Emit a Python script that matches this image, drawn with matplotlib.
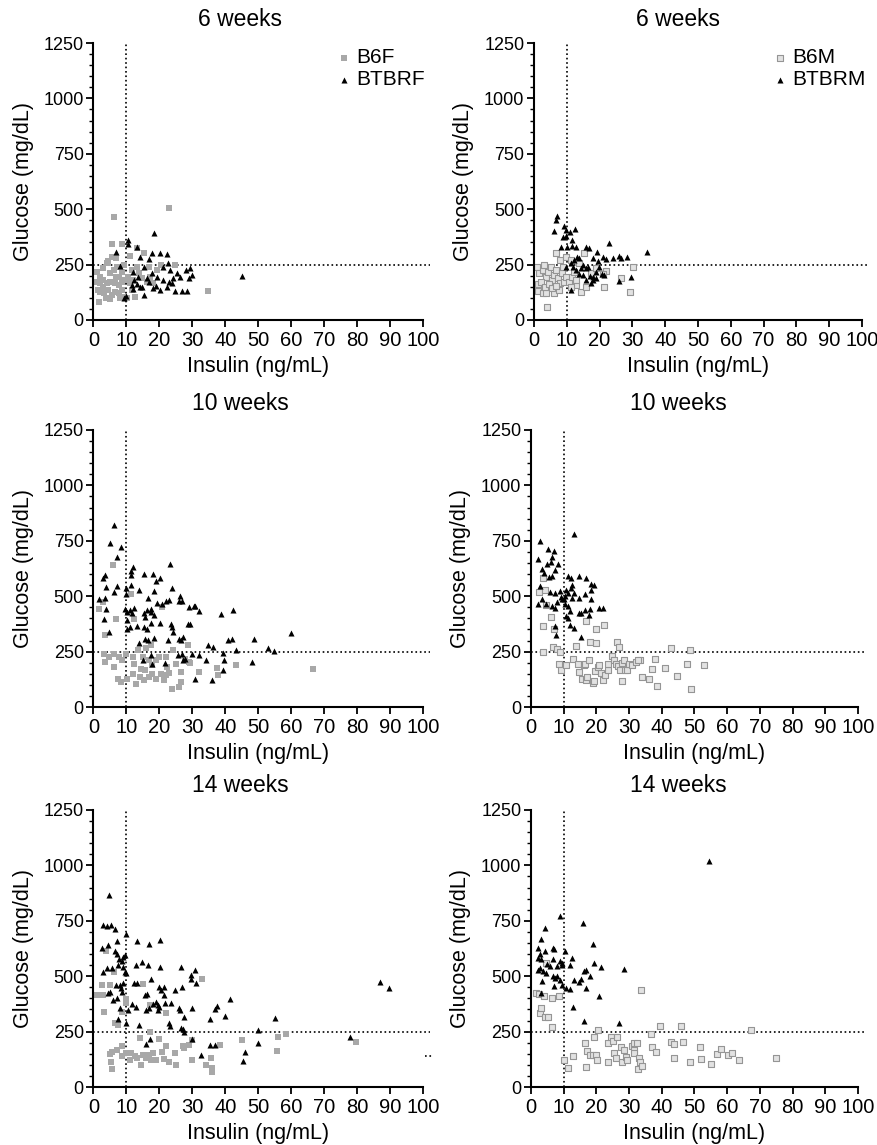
import matplotlib
matplotlib.use('Agg')
import matplotlib.pyplot as plt
from matplotlib.ticker import MultipleLocator

plt.rcParams['font.family'] = ['Liberation Sans', 'DejaVu Sans']

# ---- 6 weeks, females ----
b6f_6_x = [1.0, 2.0, 3.0, 4.0, 4.5, 5.1, 6.1, 7.1, 7.6, 8.6, 9.3, 2.0, 3.0, 4.0, 5.1, 6.6, 7.6, 8.6, 9.6,
           10.6, 2.0, 3.2, 4.5, 5.6, 6.6, 7.6, 8.6, 9.3, 3.8, 5.1, 8.1, 11.1, 11.6, 12.1, 13.1, 13.9, 14.6,
           16.2, 17.2, 5.6, 6.9, 8.8, 5.6, 6.1, 23.0, 13.1, 11.1, 15.2, 1.5, 1.7, 34.7, 10.1, 12.6, 1.0,
           3.0, 6.9, 11.6, 19.2, 18.2, 16.7, 24.8, 20.5]
b6f_6_y = [218, 196, 233, 256, 264, 211, 226, 241, 196, 218, 248, 166, 151, 166, 173, 166, 158, 173, 181,
           196, 128, 120, 136, 113, 128, 120, 136, 105, 98, 93, 98, 166, 136, 181, 241, 211, 188,
           173, 196, 286, 282, 345, 342, 464, 506, 324, 289, 301, 136, 80, 133, 101, 105, 173,
           181, 196, 226, 226, 166, 241, 248, 250]
btbrf_6_x = [45.2, 18.4, 10.6, 10.6, 6.9, 8.1, 13.3, 20.2, 17.8, 22.4, 16.8, 14.1, 22.7, 23.2, 26.3, 29.3,
             29.8, 29.0, 28.3, 27.0, 24.7, 22.4, 19.0, 15.4, 9.3, 9.9, 11.9, 13.1, 14.0, 14.6, 16.2, 17.7,
             19.2, 21.2, 23.0, 23.7, 24.2, 25.3, 28.0, 15.2, 12.1, 13.6, 12.3, 11.6, 16.9, 18.2, 20.2, 21.2]
btbrf_6_y = [199, 392, 361, 342, 306, 245, 328, 301, 301, 297, 274, 286, 256, 226, 196, 233,
             203, 188, 131, 131, 133, 150, 154, 113, 101, 108, 139, 163, 151, 151, 188, 211,
             196, 181, 173, 166, 188, 211, 226, 241, 218, 196, 181, 158, 173, 143, 136, 241]

# ---- 6 weeks, males ----
b6m_6_x = [4.1, 1.3, 1.2, 2.6, 3.6, 6.1, 7.7, 6.6, 7.9, 9.9, 11.2, 13.8, 15.3, 21.4, 26.5, 29.3, 30.3, 21.9,
           20.9, 14.3, 15.8, 12.8, 1.0, 1.5, 2.6, 3.1, 3.6, 4.4, 5.1, 5.6, 6.1, 6.6, 7.4, 7.9, 8.5, 8.9,
           2.0, 3.4, 4.6, 5.6, 6.8, 9.2, 9.7, 10.7, 11.5, 12.2, 11.2, 12.8, 17.3, 18.9]
b6m_6_y = [59, 161, 131, 120, 123, 123, 136, 301, 271, 286, 271, 256, 301, 151, 191, 125, 238, 223,
           206, 128, 151, 158, 241, 211, 226, 248, 196, 218, 241, 181, 203, 226, 188, 166, 211, 241,
           173, 151, 163, 143, 154, 173, 196, 173, 196, 218, 151, 181, 211, 233]
btbrm_6_x = [7.1, 6.8, 6.1, 9.2, 9.7, 10.9, 12.6, 9.7, 8.9, 8.2, 10.2, 11.5, 12.9, 11.7, 15.8, 16.8, 19.1,
             22.8, 34.4, 29.6, 26.0, 26.0, 26.5, 28.3, 24.2, 21.9, 20.9, 19.4, 18.1, 13.0, 13.6, 11.2,
             9.7, 11.9, 12.8, 14.3, 15.0, 15.8, 14.8, 15.8, 17.0, 18.1, 17.5, 18.1, 19.0, 19.9, 20.7,
             21.4, 19.0, 11.2, 13.8, 12.2, 16.6]
btbrm_6_y = [470, 452, 402, 422, 407, 395, 410, 377, 373, 331, 331, 334, 331, 361, 328, 324, 309,
             349, 309, 196, 176, 289, 279, 283, 279, 274, 283, 268, 279, 286, 279, 256,
             241, 241, 226, 236, 248, 233, 203, 181, 199, 181, 166, 196, 218, 241, 208,
             203, 188, 136, 208, 271, 241]

# ---- 10 weeks, females ----
b6f_10_x = [6.0, 1.7, 2.9, 6.8, 3.4, 11.3, 12.4, 20.7, 28.7, 66.6, 43.3, 37.4, 37.7, 32.1, 29.3, 26.5, 26.5,
            23.7, 26.0, 23.0, 22.3, 21.5, 20.5, 18.9, 16.9, 15.4, 14.1, 12.9, 11.9, 10.3, 8.3, 7.3, 6.3,
            3.2, 3.5, 4.8, 6.3, 7.8, 8.8, 9.8, 11.9, 13.4, 12.4, 14.9, 16.9, 17.9, 18.9, 17.4, 15.9,
            24.0, 25.0, 27.8, 28.9, 15.7, 17.9, 14.4, 21.9, 19.9, 21.9]
b6f_10_y = [640, 440, 474, 395, 324, 508, 395, 452, 279, 172, 191, 176, 143, 157, 199, 158, 113,
            83, 90, 154, 181, 120, 151, 128, 136, 123, 136, 105, 151, 128, 113, 128, 181,
            241, 203, 226, 241, 226, 211, 241, 226, 256, 196, 226, 211, 188, 211, 279, 264,
            256, 196, 218, 203, 166, 151, 173, 143, 226, 226]
btbrf_10_x = [6.3, 5.1, 8.3, 7.1, 23.3, 12.1, 15.2, 18.1, 20.2, 18.9, 3.4, 2.9, 11.5, 11.3, 3.8, 7.2, 9.8,
              11.5, 6.1, 13.9, 18.4, 16.6, 23.7, 26.2, 1.7, 3.4, 3.8, 3.3, 4.6, 9.8, 9.6, 10.3, 11.0,
              11.6, 12.4, 10.3, 10.1, 11.0, 13.2, 15.3, 15.6, 16.3, 17.3, 17.6, 18.4, 15.3, 16.1, 17.6,
              20.2, 19.2, 20.9, 22.0, 23.0, 25.8, 26.8, 23.5, 23.8, 24.0, 18.4, 15.7, 16.4, 13.9, 22.5,
              25.8, 27.3, 26.6, 28.6, 29.3, 28.9, 30.4, 30.9, 32.1, 38.7, 42.2, 34.9, 36.2, 31.9, 34.1,
              39.2, 39.7, 40.7, 42.0, 43.1, 48.8, 48.0, 53.1, 54.7, 60.0, 30.9, 36.0, 39.4, 21.8, 14.9,
              17.7, 17.6, 25.5, 26.8, 27.8, 29.9, 27.2]
btbrf_10_y = [821, 742, 723, 678, 646, 632, 602, 602, 584, 568, 595, 583, 614, 595, 542, 547, 538,
              550, 518, 526, 523, 494, 539, 500, 486, 492, 440, 396, 339, 512, 440, 429, 437,
              425, 449, 392, 351, 361, 364, 422, 404, 437, 429, 440, 416, 361, 352, 380,
              380, 470, 467, 477, 485, 477, 477, 376, 361, 339, 312, 309, 301, 289, 301,
              309, 316, 301, 373, 376, 452, 458, 456, 432, 419, 437, 279, 271, 236, 211,
              244, 211, 301, 307, 259, 309, 203, 264, 251, 334, 128, 122, 166, 199, 211,
              193, 233, 233, 241, 218, 241, 211]

# ---- 10 weeks, males ----
b6m_10_x = [3.7, 2.5, 4.2, 4.7, 6.0, 7.1, 3.7, 6.6, 8.0, 3.7, 8.8, 16.7, 19.9, 22.4, 17.9, 19.9, 13.8, 26.2,
            26.8, 42.8, 48.5, 47.7, 52.8, 44.6, 48.9, 41.1, 38.5, 37.1, 37.9, 36.0, 33.8, 33.4,
            8.6, 9.3, 10.8, 12.8, 14.3, 14.8, 15.6, 16.7, 17.1, 16.2, 16.5, 17.7, 19.1, 19.4, 19.7,
            20.4, 20.9, 21.4, 22.1, 22.7, 23.4, 23.7, 24.9, 25.5, 26.0, 26.5, 27.2, 27.8, 28.5, 28.8,
            27.8, 29.5, 30.0, 31.0, 32.0, 32.8]
b6m_10_y = [580, 519, 529, 460, 406, 351, 364, 272, 260, 249, 249, 386, 353, 368, 293, 287, 275, 295,
            272, 268, 258, 194, 188, 141, 83, 177, 94, 170, 218, 126, 135, 212,
            196, 165, 191, 218, 192, 157, 127, 122, 137, 188, 196, 211, 107, 116, 162,
            180, 188, 153, 122, 145, 165, 192, 229, 211, 192, 183, 168, 198, 211, 165,
            116, 165, 196, 188, 203, 214]
btbrm_10_x = [13.3, 2.7, 5.3, 7.0, 2.2, 6.3, 3.5, 4.8, 6.0, 7.3, 8.3, 4.0, 2.7, 5.5, 6.5, 5.8, 7.2, 8.8,
              10.0, 10.3, 9.3, 9.6, 3.5, 2.2, 4.7, 6.3, 7.3, 7.8, 11.3, 12.3, 12.6, 12.1, 10.8, 11.3,
              13.0, 12.6, 14.8, 14.8, 16.9, 18.4, 19.2, 18.4, 16.4, 18.4, 16.5, 14.6, 18.1, 17.7, 20.9,
              22.1, 10.3, 11.3, 11.8, 10.8, 11.8, 13.3, 7.3, 7.6, 15.4, 11.3, 15.4]
btbrm_10_y = [780, 750, 715, 703, 666, 677, 623, 646, 654, 616, 646, 605, 547, 585, 590, 521, 516, 524,
              489, 501, 498, 486, 486, 466, 463, 455, 448, 474, 590, 580, 550, 539, 529, 513,
              513, 493, 493, 590, 580, 554, 551, 527, 509, 486, 437, 422, 440, 417, 448,
              448, 467, 458, 432, 409, 371, 356, 364, 325, 315, 402, 425]

# ---- 14 weeks, females ----
b6f_14_x = [3.7, 6.2, 2.7, 5.0, 1.5, 0.5, 3.0, 3.2, 6.5, 7.5, 8.5, 10.0, 9.8, 15.0, 17.0, 22.0, 33.0, 17.0,
            14.0, 20.0, 22.0, 27.2, 29.0, 30.0, 38.5, 45.2, 5.5, 5.0, 5.2, 5.5, 7.0, 8.5, 8.5, 10.0,
            11.0, 11.5, 12.5, 13.2, 14.5, 15.0, 16.0, 16.8, 17.5, 18.2, 19.0, 20.8, 21.5, 23.0, 24.8,
            25.0, 27.5, 29.8, 34.0, 35.8, 36.0, 36.0, 56.1, 58.4, 55.8, 79.7]
b6f_14_y = [615, 520, 460, 460, 415, 415, 415, 340, 291, 280, 340, 378, 396, 463, 370, 333, 486, 246,
            220, 216, 186, 183, 190, 213, 190, 213, 160, 150, 115, 81, 168, 183, 138, 153,
            123, 153, 138, 130, 100, 145, 130, 145, 123, 153, 123, 156, 126, 115, 153,
            100, 175, 123, 100, 130, 85, 66, 226, 237, 162, 202]
btbrf_14_x = [4.7, 3.0, 4.0, 5.3, 6.5, 9.8, 2.7, 4.5, 7.2, 13.3, 16.8, 20.3, 6.5, 7.2, 7.8, 9.0, 9.5, 8.5,
              7.5, 9.0, 9.5, 9.8, 3.0, 4.2, 5.7, 6.8, 8.3, 8.8, 9.0, 8.0, 5.0, 4.5, 5.8, 7.0, 8.0, 7.5,
              9.8, 10.5, 11.8, 13.0, 12.8, 12.2, 13.2, 14.8, 16.5, 17.5, 15.5, 16.2, 16.0, 16.8, 18.2,
              19.0, 19.5, 19.8, 19.5, 19.8, 20.5, 20.3, 21.5, 21.8, 21.3, 23.5, 22.8, 23.2, 24.8, 26.5,
              26.8, 25.8, 26.2, 27.5, 26.5, 27.2, 27.5, 30.0, 29.5, 29.5, 30.8, 31.0, 30.0, 13.8, 15.8,
              17.0, 32.5, 35.5, 35.5, 36.8, 37.0, 37.5, 40.0, 41.5, 45.3, 46.0, 49.8, 49.8, 55.0, 87.1,
              89.6, 77.7]
btbrf_14_y = [868, 729, 727, 729, 715, 690, 628, 640, 658, 658, 645, 664, 613, 598, 577, 588, 595, 570,
              550, 543, 520, 513, 517, 535, 535, 460, 445, 430, 471, 460, 430, 423, 393, 400, 355, 307,
              291, 348, 375, 363, 550, 468, 471, 564, 550, 486, 415, 420, 348, 355, 375,
              382, 370, 363, 348, 453, 438, 540, 453, 381, 415, 381, 291, 276, 438, 540,
              453, 355, 348, 318, 265, 261, 246, 355, 505, 486, 528, 468, 216, 280, 195,
              216, 145, 306, 190, 190, 351, 366, 322, 396, 117, 159, 255, 198, 311, 475,
              445, 226]

# ---- 14 weeks, males ----
b6m_14_x = [4.7, 1.4, 2.5, 3.9, 6.3, 8.5, 2.9, 3.2, 4.2, 5.3, 6.3, 33.5, 20.6, 19.4, 16.4, 17.2, 17.9,
            18.9, 19.9, 20.1, 16.7, 12.8, 10.0, 11.3, 23.7, 24.4, 25.2, 26.4, 25.5, 26.1, 23.4, 27.5,
            28.5, 27.8, 29.0, 29.5, 30.8, 31.5, 32.5, 31.5, 31.5, 33.0, 33.3, 32.8, 34.0, 36.6, 37.1,
            38.3, 39.3, 45.8, 42.9, 43.7, 46.4, 43.6, 48.5, 51.7, 52.0, 55.1, 56.8, 58.0, 60.1, 61.6,
            63.7, 67.3, 74.8]
b6m_14_y = [561, 424, 421, 409, 402, 412, 333, 356, 315, 314, 270, 436, 258, 224, 197, 162, 144,
            144, 144, 121, 91, 141, 124, 86, 197, 227, 209, 227, 152, 129, 111, 182,
            167, 114, 136, 121, 185, 197, 200, 167, 152, 129, 114, 83, 94, 238, 179,
            159, 277, 276, 205, 194, 205, 132, 114, 182, 126, 106, 148, 170, 144, 152,
            121, 258, 129]
btbrm_14_x = [9.0, 4.4, 15.9, 3.2, 2.2, 19.1, 6.6, 7.0, 10.3, 2.7, 4.3, 2.2, 3.2, 6.6, 8.8, 9.5, 8.1, 9.6,
              12.6, 12.0, 4.9, 5.7, 2.7, 2.2, 3.7, 4.7, 6.8, 7.3, 8.8, 8.0, 6.9, 3.5, 9.6, 10.8, 11.8,
              13.0, 14.6, 15.3, 16.3, 16.7, 17.9, 19.4, 21.4, 16.7, 20.9, 28.5, 3.2, 12.8, 16.2, 27.0,
              54.5]
btbrm_14_y = [773, 717, 738, 667, 629, 647, 629, 621, 614, 602, 614, 583, 576, 579, 568, 561, 545, 550,
              583, 550, 553, 545, 535, 526, 523, 515, 500, 492, 485, 500, 455, 477, 462, 447, 442,
              485, 473, 489, 523, 527, 503, 561, 541, 447, 412, 533, 424, 361, 298, 291,
              1020]

titles = ['6 weeks', '10 weeks', '14 weeks']
legend_f = ['B6F', 'BTBRF']
legend_m = ['B6M', 'BTBRM']

female = [(b6f_6_x, b6f_6_y, btbrf_6_x, btbrf_6_y),
          (b6f_10_x, b6f_10_y, btbrf_10_x, btbrf_10_y),
          (b6f_14_x, b6f_14_y, btbrf_14_x, btbrf_14_y)]
male = [(b6m_6_x, b6m_6_y, btbrm_6_x, btbrm_6_y),
        (b6m_10_x, b6m_10_y, btbrm_10_x, btbrm_10_y),
        (b6m_14_x, b6m_14_y, btbrm_14_x, btbrm_14_y)]

W, H = 878, 1145
fig = plt.figure(figsize=(W / 100, H / 100), dpi=100)

row_bottom = [320, 707, 1087]   # pixel row of y=0
row_title = [20, 403, 785]
left_x = (93.5, 423)
right_x = [(534, 862), (531, 858), (531, 858)]


def style_axes(ax):
    ax.set_xlim(0, 100)
    ax.set_ylim(0, 1250)
    ax.xaxis.set_major_locator(MultipleLocator(10))
    ax.yaxis.set_major_locator(MultipleLocator(250))
    ax.yaxis.set_minor_locator(MultipleLocator(50))
    for s in ['top', 'right']:
        ax.spines[s].set_visible(False)
    for s in ['left', 'bottom']:
        ax.spines[s].set_linewidth(1.5)
    ax.tick_params(which='major', direction='out', length=5, width=1.3)
    ax.tick_params(axis='y', which='major', labelsize=13, pad=2)
    ax.tick_params(axis='x', which='major', labelsize=14.5, pad=3)
    ax.tick_params(which='minor', direction='out', length=3, width=1.0)
    ax.tick_params(axis='x', which='minor', length=0)
    ax.axvline(10, ymin=0, ymax=1, color='black', linestyle=':', linewidth=1.2, zorder=1)
    ax.plot([0, 102], [250, 250], color='black', linestyle=':', linewidth=1.2, clip_on=False, zorder=1)
    ax.set_xlabel('Insulin (ng/mL)', fontsize=15.5, labelpad=4)
    ax.set_ylabel('Glucose (mg/dL)', fontsize=15.5, labelpad=7)


for r in range(3):
    y0 = row_bottom[r]
    bottom = 1 - y0 / H
    height = 277 / H

    # females (left)
    ax = fig.add_axes([left_x[0] / W, bottom, (left_x[1] - left_x[0]) / W, height])
    style_axes(ax)
    gx, gy, bx, by = female[r]
    h1 = ax.scatter(gx, gy, marker='s', s=13, color='#a8a8a8', linewidths=0, zorder=2, clip_on=False)
    h2 = ax.scatter(bx, by, marker='^', s=19, color='black', linewidths=0, zorder=3, clip_on=False)
    fig.text(240 / W, 1 - row_title[r] / H, titles[r], ha='center', va='center', fontsize=16.5)
    if r == 0:
        ax.legend([h1, h2], legend_f, loc='upper left', bbox_to_anchor=(338 / W, 1 - 48 / H),
                  bbox_transform=fig.transFigure, frameon=False, fontsize=15, handlelength=0.6,
                  handletextpad=0.3, borderpad=0, labelspacing=0.15, borderaxespad=0)
    if r == 2:
        ax.plot([100.5, 103], [138, 138], color='black', linestyle=':', linewidth=1.2, clip_on=False)

    # males (right)
    xr = right_x[r]
    ax = fig.add_axes([xr[0] / W, bottom, (xr[1] - xr[0]) / W, height])
    style_axes(ax)
    gx, gy, bx, by = male[r]
    h1 = ax.scatter(gx, gy, marker='s', s=13, facecolor='#e2e2e2', edgecolor='#959595',
                    linewidths=0.8, zorder=2, clip_on=False)
    h2 = ax.scatter(bx, by, marker='^', s=19, color='black', linewidths=0, zorder=3, clip_on=False)
    fig.text(678 / W, 1 - row_title[r] / H, titles[r], ha='center', va='center', fontsize=16.5)
    if r == 0:
        ax.legend([h1, h2], legend_m, loc='upper left', bbox_to_anchor=(774 / W, 1 - 48 / H),
                  bbox_transform=fig.transFigure, frameon=False, fontsize=15, handlelength=0.6,
                  handletextpad=0.3, borderpad=0, labelspacing=0.15, borderaxespad=0)

fig.savefig('out.png', dpi=100)
